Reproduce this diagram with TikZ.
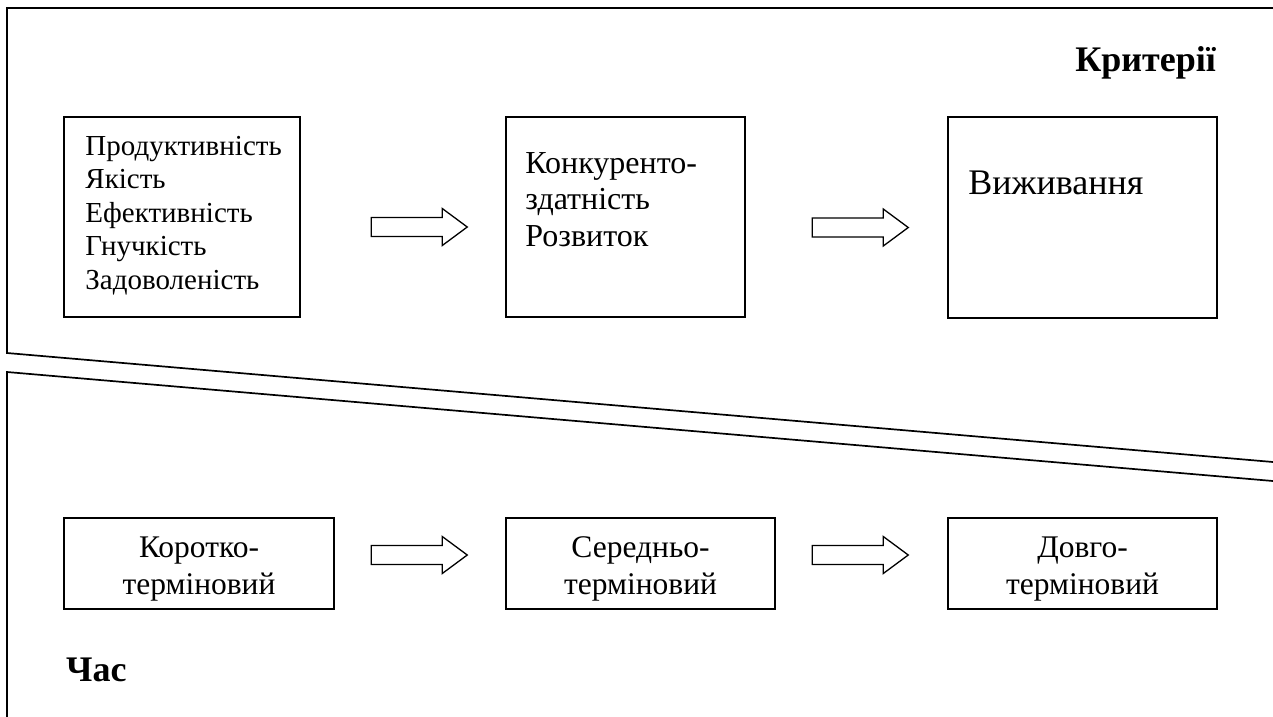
\documentclass[tikz,border=0pt]{standalone}
\usepackage{fontspec}
\setmainfont{Liberation Serif}
\usetikzlibrary{calc}

\tikzset{
  frameline/.style={line width=1.7pt, line join=miter},
  box/.style={draw, rectangle, line width=1.5pt, inner sep=0pt},
  % multi-line nodes: the base anchor sits on the last line
  boxtext/.style={inner sep=0pt, align=left, anchor=base west},
  termtext/.style={inner sep=0pt, align=center, anchor=base,
    font=\fontsize{31.5}{37}\selectfont},
  heading/.style={inner sep=0pt, font=\bfseries\fontsize{36}{40}\selectfont},
  arrowline/.style={draw, line width=1.3pt, line join=miter, fill=white},
  blockarrow/.pic={
    \path[arrowline] (0,-9.5) -- (71,-9.5) -- (71,-18.5) -- (96,0)
      -- (71,18.5) -- (71,9.5) -- (0,9.5) -- cycle;
  }
}

\begin{document}
\begin{tikzpicture}[x=1pt, y=-1pt]
\useasboundingbox (0,0) rectangle (1273,716);
\clip (0,0) rectangle (1273,716);

% upper panel: criteria
\draw[frameline] (1280,8) -- (7,8) -- (7,353) -- (1280,462.6);
% lower panel: time horizon
\draw[frameline] (1280,481.6) -- (7,372) -- (7,720);

\node[heading, anchor=base east] (crit) at (1216,71) {Критерії};
\node[heading, anchor=base west] (time) at (66,681) {Час};

% criteria boxes
\node[box, minimum width=236, minimum height=200] (b1) at (182,217) {};
\node[box, minimum width=239, minimum height=200] (b2) at (625.5,217) {};
\node[box, minimum width=269, minimum height=201] (b3) at (1082.5,217.5) {};

\node[boxtext, font=\fontsize{29}{33.5}\selectfont] (t1) at ($(b1.north west)+(22,173)$)
  {Продуктивність\\Якість\\Ефективність\\Гнучкість\\Задоволеність};
\node[boxtext, font=\fontsize{32}{36.5}\selectfont] (t2) at ($(b2.north west)+(20,130)$)
  {Конкуренто-\\здатність\\Розвиток};
\node[boxtext, font=\fontsize{36}{40}\selectfont] (t3) at ($(b3.north west)+(21,78)$)
  {Виживання};

\pic (a1) at ($(b2.west)+(-134,10)$) {blockarrow};
\pic (a2) at ($(b3.west)+(-135,10)$) {blockarrow};

% time boxes
\node[box, minimum width=270, minimum height=91] (b4) at (199,563.5) {};
\node[box, minimum width=269, minimum height=91] (b5) at (640.5,563.5) {};
\node[box, minimum width=269, minimum height=91] (b6) at (1082.5,563.5) {};

\node[termtext] (t4) at ($(b4.north)+(0,77)$) {Коротко-\\терміновий};
\node[termtext] (t5) at ($(b5.north)+(0,77)$) {Середньо-\\терміновий};
\node[termtext] (t6) at ($(b6.north)+(0,77)$) {Довго-\\терміновий};

\pic (a3) at ($(b5.west)+(-134,-8.5)$) {blockarrow};
\pic (a4) at ($(b6.west)+(-135,-8.5)$) {blockarrow};
\end{tikzpicture}
\end{document}
